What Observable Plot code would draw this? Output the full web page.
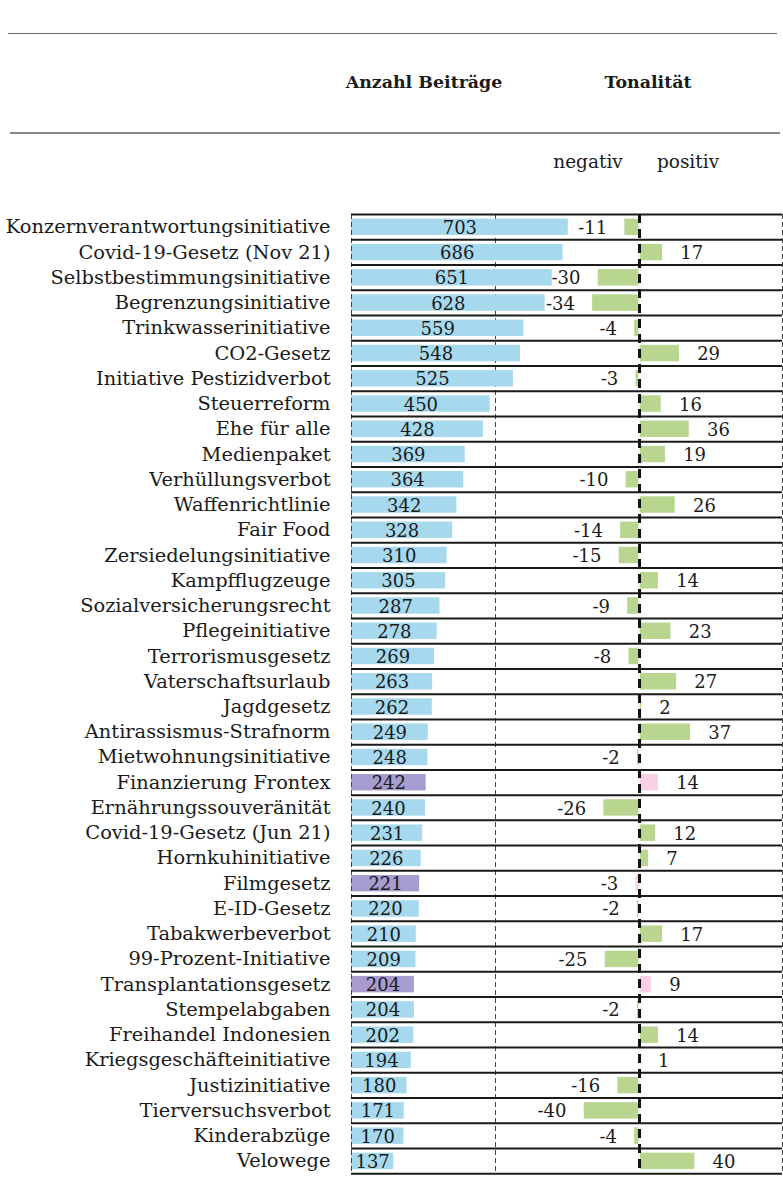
<!DOCTYPE html>
<html>
<head>
<meta charset="utf-8">
<script src="https://cdn.jsdelivr.net/npm/d3@7"></script>
<script src="https://cdn.jsdelivr.net/npm/@observablehq/plot@0.6"></script>
<style>
  html, body { margin: 0; padding: 0; background: #fff; }
  body { width: 783px; height: 1200px; position: relative; overflow: hidden; font-family: "DejaVu Serif", serif; color: #1a1a1a; }
  .hline { position: absolute; height: 0; }
  .head { position: absolute; font-weight: bold; font-size: 17.4px; transform: translateX(-50%); white-space: nowrap; }
  .sub { position: absolute; font-size: 18.5px; transform: translateX(-50%); white-space: nowrap; }
  #chart { position: absolute; left: 0; top: 190px; width: 783px; height: 1010px; }
  #chart svg { position: absolute; left: 0; top: 0; }
</style>
</head>
<body>
<div class="hline" style="left:8px;top:33px;width:769px;border-top:1.5px solid #666"></div>
<div class="head" style="left:424px;top:72px">Anzahl Beiträge</div>
<div class="head" style="left:648px;top:72px">Tonalität</div>
<div class="hline" style="left:10px;top:132px;width:770px;border-top:2px solid #8a8a8a"></div>
<div class="sub" style="left:588px;top:151px">negativ</div>
<div class="sub" style="left:688px;top:151px">positiv</div>
<div id="chart"></div>
<script>
const names = ["Konzernverantwortungsinitiative","Covid-19-Gesetz (Nov 21)","Selbstbestimmungsinitiative","Begrenzungsinitiative","Trinkwasserinitiative","CO2-Gesetz","Initiative Pestizidverbot","Steuerreform","Ehe für alle","Medienpaket","Verhüllungsverbot","Waffenrichtlinie","Fair Food","Zersiedelungsinitiative","Kampfflugzeuge","Sozialversicherungsrecht","Pflegeinitiative","Terrorismusgesetz","Vaterschaftsurlaub","Jagdgesetz","Antirassismus-Strafnorm","Mietwohnungsinitiative","Finanzierung Frontex","Ernährungssouveränität","Covid-19-Gesetz (Jun 21)","Hornkuhinitiative","Filmgesetz","E-ID-Gesetz","Tabakwerbeverbot","99-Prozent-Initiative","Transplantationsgesetz","Stempelabgaben","Freihandel Indonesien","Kriegsgeschäfteinitiative","Justizinitiative","Tierversuchsverbot","Kinderabzüge","Velowege"];
const counts = [703,686,651,628,559,548,525,450,428,369,364,342,328,310,305,287,278,269,263,262,249,248,242,240,231,226,221,220,210,209,204,204,202,194,180,171,170,137];
const tones = [-11,17,-30,-34,-4,29,-3,16,36,19,-10,26,-14,-15,14,-9,23,-8,27,2,37,-2,14,-26,12,7,-3,-2,17,-25,9,-2,14,1,-16,-40,-4,40];
const highlighted = ["Finanzierung Frontex","Filmgesetz","Transplantationsgesetz"];

const data = names.map((name, i) => ({name, count: counts[i], tone: tones[i], hl: highlighted.includes(name)}));

const W = 783, H = 1010, MT = 24, MB = 26.7;
const step = (H - MT - MB) / names.length;
const font = "DejaVu Serif";
const ink = "#1a1a1a";

const blue = "#a7d9ee", purple = "#a79ccf", green = "#b9d691", pink = "#f9d0e4";

const base = Plot.plot({
  width: W, height: H,
  marginLeft: 351, marginRight: 144, marginTop: MT, marginBottom: MB,
  style: {fontFamily: font, background: "transparent", color: ink, overflow: "visible"},
  x: {domain: [0, 934], axis: null},
  y: {domain: names, padding: 0, round: false, label: null},
  marks: [
    Plot.axisY({tickSize: 0, tickPadding: 21, fontSize: 19.4, label: null, fill: ink}),
    Plot.ruleX([467], {stroke: "#444", strokeWidth: 1, strokeDasharray: "5,3"}),
    Plot.barX(data, {x: "count", y: "name", fill: d => d.hl ? purple : blue, insetTop: 4.6, insetBottom: 4.2}),
    Plot.text(data, {x: d => d.count / 2, y: "name", text: d => String(d.count), fontSize: 18, fill: ink, dy: 1})
  ]
});

const over = Plot.plot({
  width: W, height: H,
  marginLeft: 351, marginRight: 1, marginTop: MT, marginBottom: MB,
  style: {fontFamily: font, background: "transparent", color: ink, overflow: "visible"},
  x: {domain: [-205.7, 102.1], axis: null},
  y: {domain: names, padding: 0, round: false, axis: null},
  marks: [
    Plot.ruleX([-205.7, 102.1], {stroke: "#444", strokeWidth: 1, strokeDasharray: "5,3"}),
    Plot.ruleY(data, {y: "name", dy: -step / 2, stroke: ink, strokeWidth: 2}),
    Plot.ruleY(data.slice(-1), {y: "name", dy: step / 2, stroke: ink, strokeWidth: 2}),
    Plot.barX(data, {x1: 0, x2: "tone", y: "name", fill: d => d.hl ? pink : green, insetTop: 4.6, insetBottom: 4.2, insetLeft: 0.7, insetRight: 0.7}),
    Plot.ruleX([0], {stroke: "#111", strokeWidth: 3, strokeDasharray: "9,6"}),
    Plot.text(data.filter(d => d.tone > 0), {x: "tone", y: "name", text: d => String(d.tone), dx: 17, textAnchor: "start", fontSize: 18, fill: ink, dy: 1}),
    Plot.text(data.filter(d => d.tone < 0), {x: "tone", y: "name", text: d => String(d.tone), dx: -17, textAnchor: "end", fontSize: 18, fill: ink, dy: 1})
  ]
});

const chart = document.getElementById("chart");
chart.appendChild(base);
chart.appendChild(over);
</script>
</body>
</html>
